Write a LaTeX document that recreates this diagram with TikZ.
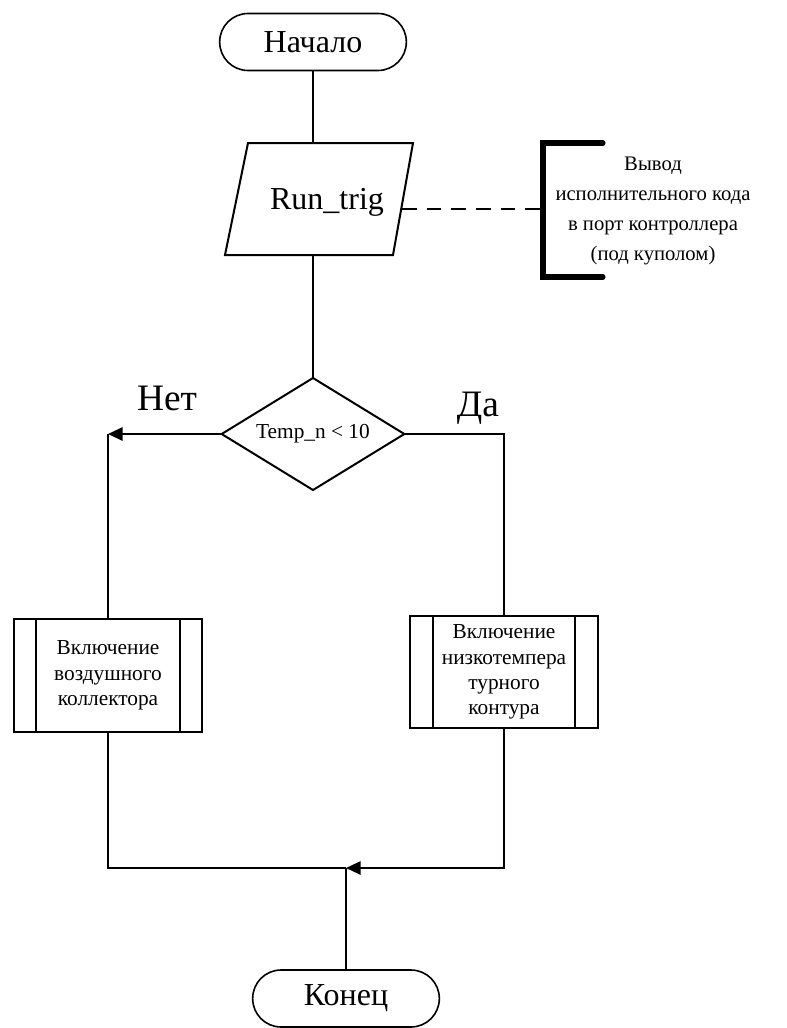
\documentclass[tikz,border=0pt]{standalone}
\usepackage{fontspec}
\setmainfont{Liberation Serif}
\usetikzlibrary{shapes.geometric,arrows.meta}
\begin{document}
\begin{tikzpicture}[x=0.75pt,y=-0.75pt,
  line width=1.5pt,
  every node/.style={inner sep=0pt, outer sep=0pt, align=center},
  terminal/.style={draw, line width=1.2pt, rounded corners=21.3pt,
    minimum width=140pt, minimum height=42.75pt,
    font=\fontsize{24}{28}\selectfont},
  decision/.style={draw, diamond, aspect=1.63, minimum width=137pt, minimum height=84pt,
    font=\fontsize{16}{19}\selectfont},
  subproc/.style={draw, minimum width=141pt, minimum height=84.5pt,
    font=\fontsize{16}{19}\selectfont,
    path picture={
      \draw[line width=1.5pt]
        ([xshift=#1]path picture bounding box.north west) --
        ([xshift=#1]path picture bounding box.south west)
        ([xshift=-#1]path picture bounding box.north east) --
        ([xshift=-#1]path picture bounding box.south east);}},
  branchlabel/.style={anchor=base, font=\fontsize{28}{32}\selectfont},
  flowarrow/.style={-{Triangle[length=11pt,width=10pt]}},
  bracketline/.style={line width=3.8pt, line cap=round},
  noteline/.style={dash pattern=on 11pt off 7.5pt}
]
\useasboundingbox (0,0) rectangle (786,1028);

% start / end terminals
\node[terminal] (start) at (313,42) {Начало};
\node[terminal] (stop) at (346,998.5) {Конец};

% input/output parallelogram
\coordinate (ioTop) at (313,143);
\coordinate (ioBot) at (313,255);
\coordinate (ioRight) at (402,209);
\draw (248,143) -- (413,143) -- (393,255) -- (225,255) -- cycle;
\node[font=\fontsize{24}{28}\selectfont] (io) at (327,202) {Run\_trig};

% comment bracket
\coordinate (brk) at (543,209);
\draw[bracketline] (603,143) -- (543,143) -- (543,277) -- (603,277);
\node[font=\fontsize{15.5}{22.5}\selectfont] (note) at (653,211)
  {Вывод\\исполнительного кода\\в порт контроллера\\(под куполом)};
\draw[noteline] (ioRight) -- (brk);

% decision
\node[decision] (dec) at (313,434) {Temp\_n < 10};
\node[branchlabel] (no) at (167,410) {Нет};
\node[branchlabel] (yes) at (478,416) {Да};

% predefined processes
\node[subproc=16.5pt] (procL) at (108,675.5)
  {Включение\\воздушного\\коллектора};
\node[subproc=17pt] (procR) at (504,672)
  {Включение\\низкотемпера\\турного\\контура};

% connectors
\coordinate (cornerL) at (108,434);
\coordinate (join) at (346,868);
\draw (start.south) -- (ioTop);
\draw (ioBot) -- (dec.north);
\draw[flowarrow] (dec.west) -- (cornerL);
\draw (cornerL) -- (procL.north);
\draw (dec.east) -| (procR.north);
\draw (procL.south) |- (join);
\draw[flowarrow] (procR.south) |- (join);
\draw (stop.north) -- (join);
\end{tikzpicture}
\end{document}
